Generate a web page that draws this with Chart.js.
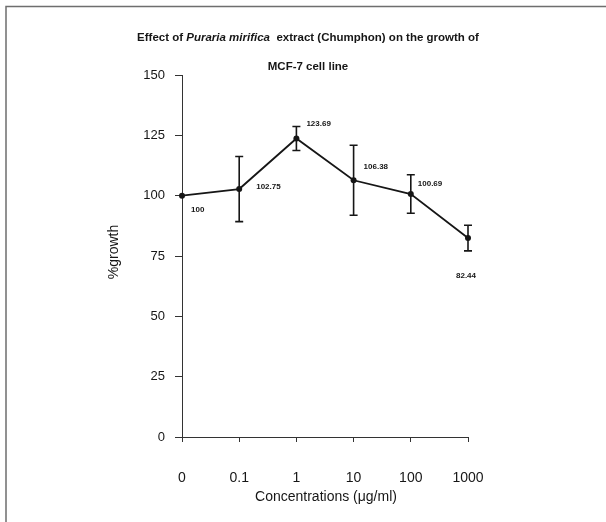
<!DOCTYPE html>
<html>
<head>
<meta charset="utf-8">
<script src="https://cdn.jsdelivr.net/npm/chart.js@4.4.1/dist/chart.umd.min.js"></script>
<style>
  html, body { margin: 0; padding: 0; background: #ffffff; }
  #wrap { width: 606px; height: 522px; position: relative; }
</style>
</head>
<body>
<div id="wrap"><canvas id="chart" width="606" height="522"></canvas></div>
<script>
// Concentrations of the extract (µg/ml), one category per point
const concentrations = ['0', '0.1', '1', '10', '100', '1000'];
// Mean % growth of MCF-7 cells at each concentration
const growth = [100, 102.75, 123.69, 106.38, 100.69, 82.44];
// Error bar half-lengths (± around the mean)
const errors = [0, 13.5, 5, 14.5, 8, 5.3];
// Y axis tick values
const yTicks = [0, 25, 50, 75, 100, 125, 150];

// Where each value label sits relative to its point
const labelPlacement = [
  { dx: 9, dy: 14 },
  { dx: 17, dy: -2 },
  { dx: 10, dy: -15 },
  { dx: 10, dy: -13 },
  { dx: 7, dy: -10 },
  { dx: -12, dy: 38 }
];

const FONT = '"Liberation Sans", Arial, sans-serif';
const INK = '#161616';

const points = growth.map((v, i) => ({ x: i, y: v }));

const decorations = {
  id: 'decorations',
  beforeDraw(chart) {
    const ctx = chart.ctx;
    ctx.save();
    // page frame (top and left edges)
    ctx.strokeStyle = '#6e6e6e';
    ctx.lineWidth = 1.5;
    ctx.beginPath();
    ctx.moveTo(6, 522);
    ctx.lineTo(6, 6.5);
    ctx.lineTo(606, 6.5);
    ctx.stroke();
    ctx.restore();
  },
  afterDatasetsDraw(chart) {
    const ctx = chart.ctx;
    const xs = chart.scales.x, ys = chart.scales.y;
    ctx.save();
    // error bars
    ctx.strokeStyle = INK;
    ctx.lineWidth = 1.6;
    growth.forEach((v, i) => {
      const e = errors[i];
      if (!e) return;
      const px = xs.getPixelForValue(i);
      const top = ys.getPixelForValue(v + e);
      const bot = ys.getPixelForValue(v - e);
      ctx.beginPath();
      ctx.moveTo(px, top); ctx.lineTo(px, bot);
      ctx.moveTo(px - 4, top); ctx.lineTo(px + 4, top);
      ctx.moveTo(px - 4, bot); ctx.lineTo(px + 4, bot);
      ctx.stroke();
    });
    // value labels
    ctx.fillStyle = INK;
    ctx.font = 'bold 8px ' + FONT;
    ctx.textBaseline = 'middle';
    ctx.textAlign = 'left';
    growth.forEach((v, i) => {
      const px = xs.getPixelForValue(i);
      const py = ys.getPixelForValue(v);
      const p = labelPlacement[i];
      ctx.fillText(String(v), px + p.dx, py + p.dy);
    });
    ctx.restore();
  },
  afterDraw(chart) {
    const ctx = chart.ctx;
    ctx.save();
    ctx.fillStyle = INK;
    ctx.textBaseline = 'middle';
    // chart title, first line with italic species name
    const parts = [
      { t: 'Effect of ', f: 'bold 11.5px ' + FONT },
      { t: 'Puraria mirifica', f: 'italic bold 11.5px ' + FONT },
      { t: '  extract (Chumphon) on the growth of', f: 'bold 11.5px ' + FONT }
    ];
    let total = 0;
    parts.forEach(p => { ctx.font = p.f; p.w = ctx.measureText(p.t).width; total += p.w; });
    let x = 308 - total / 2;
    ctx.textAlign = 'left';
    parts.forEach(p => { ctx.font = p.f; ctx.fillText(p.t, x, 38); x += p.w; });
    ctx.textAlign = 'center';
    ctx.font = 'bold 11.5px ' + FONT;
    ctx.fillText('MCF-7 cell line', 308, 67);
    // axis titles
    ctx.font = '14px ' + FONT;
    ctx.fillText('Concentrations (\u03bcg/ml)', 326, 497);
    ctx.translate(114, 252);
    ctx.rotate(-Math.PI / 2);
    ctx.fillText('%growth', 0, 0);
    ctx.restore();
  }
};

new Chart(document.getElementById('chart'), {
  type: 'line',
  data: {
    datasets: [{
      data: points,
      borderColor: INK,
      borderWidth: 1.8,
      backgroundColor: INK,
      pointRadius: 3,
      pointHoverRadius: 3,
      pointBackgroundColor: INK,
      pointBorderWidth: 0,
      tension: 0,
      fill: false,
      clip: false
    }]
  },
  options: {
    responsive: false,
    animation: false,
    events: [],
    layout: { padding: { top: 75, right: 138, bottom: 0, left: 0 } },
    plugins: { legend: { display: false }, tooltip: { enabled: false }, title: { display: false } },
    scales: {
      x: {
        type: 'linear',
        min: 0,
        max: concentrations.length - 1,
        afterFit(scale) { scale.height = 85; },
        afterBuildTicks(scale) { scale.ticks = concentrations.map((c, i) => ({ value: i })); },
        grid: { drawOnChartArea: false, tickLength: 5, color: '#333', lineWidth: 1 },
        border: { display: true, color: '#333', width: 1 },
        ticks: {
          padding: 28,
          color: INK,
          font: { family: FONT, size: 14 },
          maxRotation: 0,
          autoSkip: false,
          callback: (v) => concentrations[v]
        }
      },
      y: {
        min: 0,
        max: 150,
        afterFit(scale) { scale.width = 182; },
        afterBuildTicks(scale) { scale.ticks = yTicks.map(v => ({ value: v })); },
        grid: { drawOnChartArea: false, tickLength: 7, color: '#333', lineWidth: 1 },
        border: { display: true, color: '#333', width: 1 },
        ticks: {
          padding: 10,
          color: INK,
          font: { family: FONT, size: 13 }
        }
      }
    }
  },
  plugins: [decorations]
});
</script>
</body>
</html>
